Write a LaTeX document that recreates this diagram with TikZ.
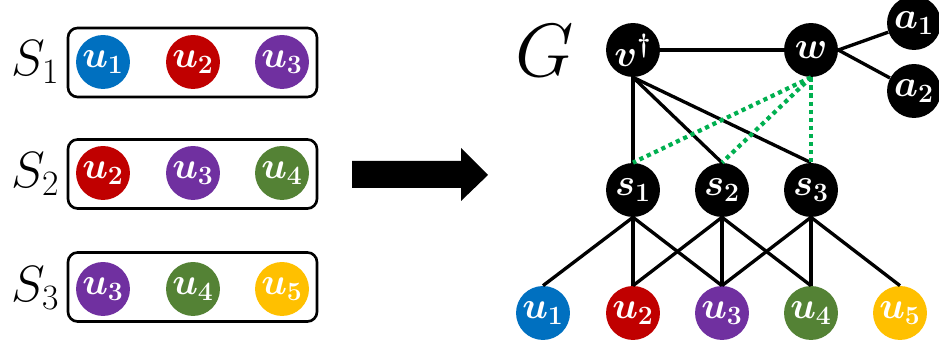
\documentclass[tikz,border=0pt]{standalone}
\usepackage{fix-cm}
\usepackage{tikz}
\usepackage{amsmath}
\usepackage{amssymb}
\definecolor{ublue}{HTML}{0070C0}
\definecolor{ured}{HTML}{C00000}
\definecolor{upurple}{HTML}{7030A0}
\definecolor{ugreen}{HTML}{548235}
\definecolor{uyellow}{HTML}{FFC000}
\definecolor{dotgreen}{HTML}{00B050}
\begin{document}
\begin{tikzpicture}[scale=0.2,
            vert/.style={circle,fill=black,minimum size=30.7pt,text=white,font=\fontsize{21.5}{26}\selectfont\boldmath},
            elem/.style={vert,fill=#1},
            setbox/.style={draw=black,line width=1.5pt,rounded corners=5.5pt,minimum width=141.7pt,minimum height=39.3pt},
            tie/.style={line width=1.9pt},
            gtie/.style={draw=dotgreen,line width=2.4pt,dash pattern=on 2.4pt off 2.2pt}]
            \tikzstyle{every node}+=[inner sep=0pt]
            \useasboundingbox (0,0) rectangle (93.9,-34.3);
            % the three sets
            \node[anchor=base west,font=\fontsize{29}{34}\selectfont] (l1) at (1.1,-7.6) {$S_1$};
            \node[anchor=base west,font=\fontsize{29}{34}\selectfont] (l2) at (1.1,-18.8) {$S_2$};
            \node[anchor=base west,font=\fontsize{29}{34}\selectfont] (l3) at (1.1,-30.2) {$S_3$};
            \node[setbox] (b1) at (19.25,-6.25) {};
            \node[setbox] (b2) at (19.25,-17.4) {};
            \node[setbox] (b3) at (19.25,-28.7) {};
            \node[elem=ublue] (p11) at (10.3,-6.2) {$u_1$};
            \node[elem=ured] (p12) at (19.3,-6.2) {$u_2$};
            \node[elem=upurple] (p13) at (28.2,-6.2) {$u_3$};
            \node[elem=ured] (p21) at (10.3,-17.3) {$u_2$};
            \node[elem=upurple] (p22) at (19.3,-17.3) {$u_3$};
            \node[elem=ugreen] (p23) at (28.2,-17.3) {$u_4$};
            \node[elem=upurple] (p31) at (10.3,-28.9) {$u_3$};
            \node[elem=ugreen] (p32) at (19.3,-28.9) {$u_4$};
            \node[elem=uyellow] (p33) at (28.2,-28.9) {$u_5$};
            % big arrow
            \fill [black] (35.2,-16.1) -- (46.1,-16.1) -- (46.1,-14.8) -- (48.8,-17.5) -- (46.1,-20.1) -- (46.1,-18.8) -- (35.2,-18.8) -- cycle;
            % the graph G
            \node[font=\fontsize{43}{50}\selectfont] (g) at (54.5,-5.1) {$G$};
            \node[vert] (v) at (63.3,-5.0) {$v^{\dagger}$};
            \node[vert] (w) at (81.1,-5.0) {$w$};
            \node[vert] (a1) at (91.4,-2.3) {$a_1$};
            \node[vert] (a2) at (91.4,-9.1) {$a_2$};
            \node[vert] (s1) at (63.3,-19.0) {$s_1$};
            \node[vert] (s2) at (72.2,-19.0) {$s_2$};
            \node[vert] (s3) at (81.1,-19.0) {$s_3$};
            \node[elem=ublue] (u1) at (54.3,-31.3) {$u_1$};
            \node[elem=ured] (u2) at (63.3,-31.3) {$u_2$};
            \node[elem=upurple] (u3) at (72.2,-31.3) {$u_3$};
            \node[elem=ugreen] (u4) at (81.1,-31.3) {$u_4$};
            \node[elem=uyellow] (u5) at (90.0,-31.3) {$u_5$};
            \draw [tie] (v) -- (w);
            \draw [tie] (w.east) -- (a1);
            \draw [tie] (w.east) -- (a2);
            \draw [tie] (v.south) -- (s1.north);
            \draw [tie] (v.south) -- (s2.north);
            \draw [tie] (v.south) -- (s3.north);
            \draw [gtie] (w.south) -- (s1.north);
            \draw [gtie] (w.south) -- (s2.north);
            \draw [gtie] (w.south) -- (s3.north);
            \draw [tie] (s1.south) -- (u1.north);
            \draw [tie] (s1.south) -- (u2.north);
            \draw [tie] (s1.south) -- (u3.north);
            \draw [tie] (s2.south) -- (u2.north);
            \draw [tie] (s2.south) -- (u3.north);
            \draw [tie] (s2.south) -- (u4.north);
            \draw [tie] (s3.south) -- (u3.north);
            \draw [tie] (s3.south) -- (u4.north);
            \draw [tie] (s3.south) -- (u5.north);
\end{tikzpicture}
\end{document}
